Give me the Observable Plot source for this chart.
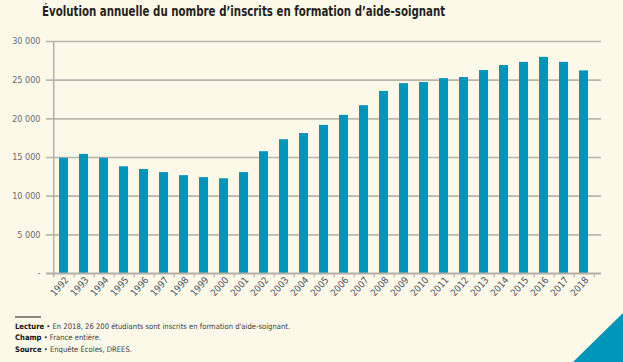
<!DOCTYPE html>
<html>
<head>
<meta charset="utf-8">
<script src="https://cdn.jsdelivr.net/npm/d3@7"></script>
<script src="https://cdn.jsdelivr.net/npm/@observablehq/plot@0.6"></script>
<style>
  html, body { margin: 0; padding: 0; }
  body { width: 623px; height: 362px; background: #fdf9e9; position: relative; overflow: hidden;
         font-family: "DejaVu Sans Condensed", "Liberation Sans Narrow", sans-serif; }
  #title { position: absolute; left: 42px; top: 3px; font-size: 14.5px; font-weight: bold; color: #231f20; white-space: nowrap;
           transform: scaleX(0.785); transform-origin: 0 0; }
  #chart { position: absolute; left: 0; top: 28px; }
  #rule { position: absolute; left: 15px; top: 316px; width: 26px; height: 2px; background: #8a8780; }
  #notes { position: absolute; left: 15px; top: 321px; font-size: 7.6px; line-height: 11.3px; color: #3a3a3a; white-space: nowrap; }
  #notes b { color: #111; }
  #corner { position: absolute; left: 0; top: 0; }
</style>
</head>
<body>
<div id="title">Évolution annuelle du nombre d’inscrits en formation d’aide-soignant</div>
<div id="chart"></div>
<div id="rule"></div>
<div id="notes">
  <div><b>Lecture</b> • En 2018, 26 200 étudiants sont inscrits en formation d'aide-soignant.</div>
  <div><b>Champ</b> • France entière.</div>
  <div><b>Source</b> • Enquête Écoles, DREES.</div>
</div>
<svg id="corner" width="623" height="362"><polygon points="573,362 623,362 623,313" fill="#0096bc"/></svg>
<script>
const years = [1992,1993,1994,1995,1996,1997,1998,1999,2000,2001,2002,2003,2004,2005,2006,2007,2008,2009,2010,2011,2012,2013,2014,2015,2016,2017,2018];
const inscrits = [14900,15400,14900,13800,13450,13050,12650,12400,12250,13050,15750,17300,18100,19150,20450,21700,23550,24550,24700,25200,25350,26250,26900,27300,27950,27300,26200];
const yTicks = [0,5000,10000,15000,20000,25000,30000];

const data = years.map((y, i) => ({year: y, value: inscrits[i]}));
const fr = d3.formatLocale({decimal: ",", thousands: " ", grouping: [3], currency: ["", " €"]});
const fmt = fr.format(",");
const halfStep = 555 / years.length / 2;

const chart = Plot.plot({
  width: 623,
  height: 275,
  marginTop: 13,
  marginLeft: 46,
  marginRight: 22,
  marginBottom: 30,
  style: {background: "transparent", fontFamily: "'DejaVu Sans Condensed', sans-serif"},
  x: {type: "band", domain: years, paddingInner: 0.56, paddingOuter: 0.28, align: 0.5, label: null},
  y: {domain: [0, 30000], label: null},
  marks: [
    Plot.ruleY(yTicks.filter(d => d > 0), {stroke: "#b9b6ad", strokeWidth: 1.6}),
    Plot.barY(data, {x: "year", y: "value", fill: "#0096bc"}),
    Plot.ruleY([0], {stroke: "#b3b0a8", strokeWidth: 2}),
    Plot.ruleX([years[0]], {dx: -halfStep, y1: 30000, y2: -550, stroke: "#b3b0a8", strokeWidth: 1.5}),
    Plot.ruleX(years, {dx: halfStep, y1: 0, y2: -550, stroke: "#b3b0a8", strokeWidth: 1.2}),
    Plot.axisY({ticks: yTicks, tickSize: 0, tickPadding: 6, fontSize: 9, fill: "#6b6b6b", label: null,
      tickFormat: d => d === 0 ? "-" : fmt(d)}),
    Plot.axisX({tickSize: 0, tickPadding: 5, tickRotate: -48, fontSize: 9.5, fill: "#4f5660", label: null,
      tickFormat: d => String(d), dx: 3})
  ]
});
document.getElementById("chart").appendChild(chart);
</script>
</body>
</html>
